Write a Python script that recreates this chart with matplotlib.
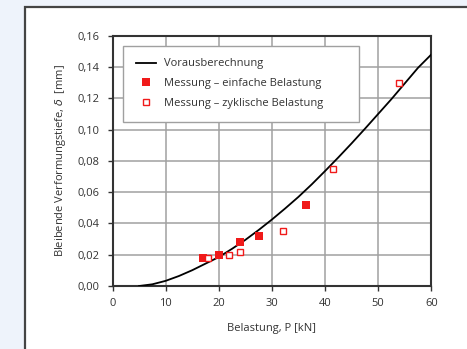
import matplotlib.pyplot as plt
from matplotlib.patches import Rectangle
from matplotlib.ticker import FuncFormatter

# Voraus berechnete Kurve
calc_p = [5, 7.5, 10, 12.5, 15, 17.5, 20, 22.5, 25, 27.5, 30, 32.5, 35, 37.5, 40, 42.5, 45, 47.5, 50, 52.5, 55, 57.5, 60]
calc_d = [0.0, 0.0011, 0.0033, 0.0064, 0.0101, 0.0143, 0.0185, 0.0238, 0.0295, 0.0358, 0.0425,
          0.0496, 0.057, 0.065, 0.0735, 0.0822, 0.0912, 0.1005, 0.11, 0.1195, 0.1295, 0.1395, 0.148]

# Messung - einfache Belastung
einf_p = [17, 20, 24, 27.5, 36.5]
einf_d = [0.018, 0.020, 0.028, 0.032, 0.052]

# Messung - zyklische Belastung
zyk_p = [18, 22, 24, 32, 41.5, 54]
zyk_d = [0.018, 0.020, 0.022, 0.035, 0.075, 0.130]

red = "#f01a1a"
fs = 8
plt.rcParams["font.family"] = ["Open Sans", "DejaVu Sans"]

fig = plt.figure(figsize=(4.67, 3.49), dpi=100)
fig.patch.set_facecolor("#eef3fb")
fig.patches.append(Rectangle((25 / 467, -0.1), 1.0, 1.1 - 7 / 349,
                             transform=fig.transFigure, facecolor="white",
                             edgecolor="#444444", linewidth=1.6, zorder=0))

ax = fig.add_axes([0.241, 0.1805, 0.6826, 0.7172])
ax.set_zorder(2)
ax.plot(calc_p, calc_d, color="black", linewidth=1.3, label="Vorausberechnung", zorder=3)
ax.plot(einf_p, einf_d, "s", color=red, markersize=5.8, markeredgewidth=0,
        label="Messung – einfache Belastung", zorder=4)
ax.plot(zyk_p, zyk_d, "s", markerfacecolor="white", markeredgecolor=red,
        markersize=5.0, markeredgewidth=1.0, label="Messung – zyklische Belastung", zorder=4)

ax.set_xlim(0, 60)
ax.set_ylim(0, 0.16)
ax.set_xticks(range(0, 61, 10))
ax.set_yticks([i * 0.02 for i in range(9)])
ax.yaxis.set_major_formatter(FuncFormatter(lambda v, p: f"{v:.2f}".replace(".", ",")))
ax.grid(True, color="#a0a0a0", linewidth=1.1)
ax.set_axisbelow(True)
for s in ax.spines.values():
    s.set_color("#333333")
    s.set_linewidth(1.5)
ax.tick_params(direction="out", length=3.5, width=1, color="#333333",
               labelsize=fs, labelcolor="#333333")
ax.tick_params(axis="x", pad=5)
ax.tick_params(axis="y", pad=6)

ax.set_xlabel("Belastung, P [kN]", fontsize=fs, color="#333333", labelpad=10)
ax.set_ylabel("Bleibende Verformungstiefe, $\\delta$  [mm]", fontsize=fs,
              color="#333333", labelpad=7)

leg = ax.legend(loc="upper left", bbox_to_anchor=(0.033, 0.66, 0.74, 0.30), mode="expand",
                borderaxespad=0, fontsize=fs, frameon=True, fancybox=False, framealpha=1,
                edgecolor="#a0a0a0", handlelength=1.8, borderpad=1.15,
                labelspacing=0.8, handletextpad=0.7)
leg.get_frame().set_linewidth(1.0)
for t in leg.get_texts():
    t.set_color("#333333")

fig.savefig("out.png", dpi=100, facecolor=fig.get_facecolor())
